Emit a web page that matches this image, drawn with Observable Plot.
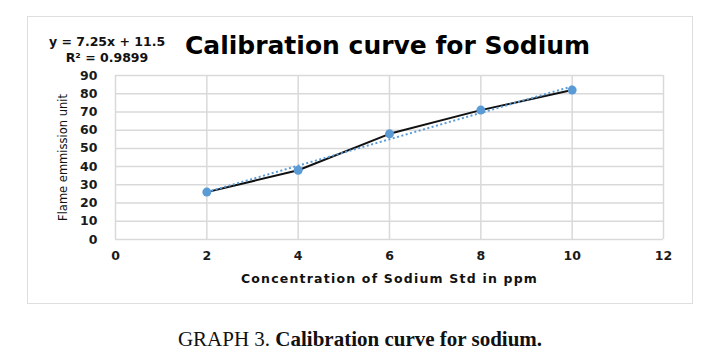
<!DOCTYPE html>
<html>
<head>
<meta charset="utf-8">
<script src="https://cdn.jsdelivr.net/npm/d3@7"></script>
<script src="https://cdn.jsdelivr.net/npm/@observablehq/plot@0.6"></script>
<style>
  html, body { margin: 0; padding: 0; background: #fff; }
  #wrap { position: relative; width: 718px; height: 359px; overflow: hidden; background: #fff; }
  #frame { position: absolute; left: 27px; top: 16px; width: 666px; height: 288px; border: 1.5px solid #dedede; box-sizing: border-box; }
  #title { position: absolute; left: 0; width: 775px; text-align: center; top: 33px; font-family: "DejaVu Sans", sans-serif; font-weight: bold; font-size: 25px; color: #000; line-height: 1; white-space: nowrap; }
  #eq { position: absolute; left: 37px; width: 140px; top: 34px; text-align: center; font-family: "DejaVu Sans", sans-serif; font-weight: bold; font-size: 12.5px; line-height: 16px; color: #111; white-space: nowrap; }
  #chart { position: absolute; left: 0; top: 0; }
  #caption { position: absolute; left: 0; width: 720px; text-align: center; top: 327px; font-family: "Liberation Serif", "Times New Roman", serif; font-size: 21px; color: #111; white-space: nowrap; line-height: 24px; }
</style>
</head>
<body>
<div id="wrap">
  <div id="frame"></div>
  <div id="chart"></div>
  <div id="title">Calibration curve for Sodium</div>
  <div id="eq">y = 7.25x + 11.5<br>R² = 0.9899</div>
  <div id="caption">GRAPH 3. <b>Calibration curve for sodium.</b></div>
</div>
<script>
const concentration = [2, 4, 6, 8, 10];
const emission = [26, 38, 58, 71, 82];
const xTicks = [0, 2, 4, 6, 8, 10, 12];
const yTicks = [0, 10, 20, 30, 40, 50, 60, 70, 80, 90];

const data = concentration.map((c, i) => ({x: c, y: emission[i]}));

const chart = Plot.plot({
  width: 718,
  height: 300,
  marginLeft: 115,
  marginRight: 55,
  marginTop: 75,
  marginBottom: 61,
  style: {fontFamily: "DejaVu Sans, sans-serif", fontSize: "12px", fontWeight: "bold", color: "#1a1a1a", background: "transparent"},
  x: {domain: [0, 12], ticks: xTicks, label: null},
  y: {domain: [0, 90], ticks: yTicks, label: null},
  marks: [
    Plot.gridX(xTicks, {stroke: "#d9d9d9", strokeOpacity: 1, strokeWidth: 1.5}),
    Plot.gridY(yTicks, {stroke: "#d9d9d9", strokeOpacity: 1, strokeWidth: 1.5}),
    Plot.axisX({ticks: xTicks, tickSize: 0, tickPadding: 12, label: null, fontWeight: "bold", fontSize: 12.5}),
    Plot.axisY({ticks: yTicks, tickSize: 0, tickPadding: 18, label: null, fontWeight: "bold", fontSize: 12.5}),
    Plot.line(data, {x: "x", y: "y", stroke: "#111", strokeWidth: 2}),
    Plot.linearRegressionY(data, {x: "x", y: "y", ci: 0, stroke: "#5b9bd5", strokeWidth: 2, strokeDasharray: "2,2.5", strokeLinecap: "butt"}),
    Plot.dot(data, {x: "x", y: "y", r: 4.5, fill: "#5b9bd5", stroke: "none"}),
    Plot.text(["Concentration of Sodium Std in ppm"], {frameAnchor: "bottom", dy: 43, fontSize: 12.5, fontWeight: "bold", fill: "#111", className: "xtitle"}),
    Plot.text(["Flame emmission unit"], {frameAnchor: "left", dx: -52, rotate: -90, textAnchor: "middle", fontSize: 11.5, fontWeight: "normal", fill: "#111"})
  ]
});
d3.select(chart).selectAll(".xtitle text").attr("letter-spacing", "1.2px");
document.getElementById("chart").appendChild(chart);
</script>
</body>
</html>
